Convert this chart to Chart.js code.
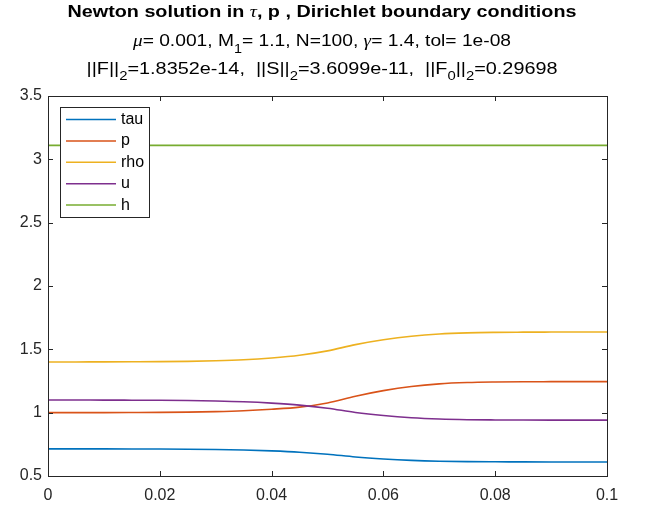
<!DOCTYPE html>
<html>
<head>
<meta charset="utf-8">
<script src="https://cdn.jsdelivr.net/npm/chart.js@4.4.1/dist/chart.umd.min.js"></script>
<style>
  html, body { margin: 0; padding: 0; background: #fff; }
</style>
</head>
<body>
<canvas id="myChart" width="649" height="508"></canvas>
<script>
// grid points and profiles of the shock solution
const xs = [0, 0.005, 0.01, 0.015, 0.02, 0.025, 0.03, 0.035, 0.04, 0.045, 0.05,
            0.055, 0.06, 0.065, 0.07, 0.075, 0.08, 0.085, 0.09, 0.095, 0.1];
const tau = [0.7143, 0.7140, 0.7138, 0.7134, 0.7129, 0.7116, 0.7093, 0.7053, 0.6983, 0.6881, 0.6722,
             0.6505, 0.6348, 0.6236, 0.6168, 0.6134, 0.6120, 0.6114, 0.6111, 0.6110, 0.6110];
const p = [1.0000, 1.0005, 1.0007, 1.0015, 1.0025, 1.0045, 1.0082, 1.0150, 1.0270, 1.0440, 1.0770,
           1.1300, 1.1740, 1.2070, 1.2275, 1.2376, 1.2420, 1.2441, 1.2448, 1.2453, 1.2453];
const rho = [1.4000, 1.4005, 1.4009, 1.4017, 1.4028, 1.4052, 1.4099, 1.4178, 1.4320, 1.4533, 1.4876,
             1.5373, 1.5752, 1.6036, 1.6214, 1.6302, 1.6340, 1.6356, 1.6363, 1.6368, 1.6368];
const u = [1.1000, 1.0996, 1.0993, 1.0986, 1.0979, 1.0959, 1.0923, 1.0862, 1.0754, 1.0597, 1.0352,
           1.0018, 0.9776, 0.9603, 0.9499, 0.9446, 0.9425, 0.9416, 0.9411, 0.9409, 0.9409];
const h = [3.11, 3.11, 3.11, 3.11, 3.11, 3.11, 3.11, 3.11, 3.11, 3.11, 3.11,
           3.11, 3.11, 3.11, 3.11, 3.11, 3.11, 3.11, 3.11, 3.11, 3.11];

const seriesNames = ['tau', 'p', 'rho', 'u', 'h'];
const seriesData = [tau, p, rho, u, h];
const seriesColors = ['#0072BD', '#D95319', '#EDB120', '#7E2F8E', '#77AC30'];

const xTicks = [0, 0.02, 0.04, 0.06, 0.08, 0.1];
const yTicks = [0.5, 1, 1.5, 2, 2.5, 3, 3.5];

const FONT = "'Liberation Sans', Arial, sans-serif";
const GREEK = "'Liberation Serif', 'DejaVu Serif', serif";
const AXIS = '#262626';

// title lines, split in runs so subscripts and greek letters can be drawn;
// the title font is a wide one, so each line is stretched to its width
const titleLines = [
  { y: 12.5, size: 17, width: 509, bold: true, runs: [
    { t: 'Newton solution in ' }, { t: 'τ', g: true }, { t: ', p , Dirichlet boundary conditions' }
  ]},
  { y: 42, size: 16, width: 378, runs: [
    { t: 'μ', g: true }, { t: '= 0.001, M' }, { t: '1', sub: true }, { t: '= 1.1, N=100, ' },
    { t: 'γ', g: true }, { t: '= 1.4, tol= 1e-08' }
  ]},
  { y: 69.5, size: 16, width: 471, runs: [
    { t: '||F||' }, { t: '2', sub: true }, { t: '=1.8352e-14,  ||S||' }, { t: '2', sub: true },
    { t: '=3.6099e-11,  ||F' }, { t: '0', sub: true }, { t: '||' }, { t: '2', sub: true }, { t: '=0.29698' }
  ]}
];

function runFont(line, r) {
  let size = r.sub ? Math.round(line.size * 0.72) : line.size;
  if (r.g) return 'italic ' + size + 'px ' + GREEK;
  return (line.bold ? 'bold ' : '') + size + 'px ' + FONT;
}

const titlePlugin = {
  id: 'titleRuns',
  afterDraw(chart) {
    const ctx = chart.ctx;
    ctx.fillStyle = '#000';
    ctx.textBaseline = 'middle';
    ctx.textAlign = 'left';
    titleLines.forEach(line => {
      let total = 0;
      line.runs.forEach(r => { ctx.font = runFont(line, r); total += ctx.measureText(r.t).width; });
      ctx.save();
      ctx.translate(322, 0);
      ctx.scale(line.width / total, 1);
      let x = -total / 2;
      line.runs.forEach(r => {
        ctx.font = runFont(line, r);
        ctx.fillText(r.t, x, r.sub ? line.y + line.size * 0.48 : line.y);
        x += ctx.measureText(r.t).width;
      });
      ctx.restore();
    });
  }
};

// box around the axes with inward ticks on all four sides
const boxPlugin = {
  id: 'axesBox',
  afterDatasetsDraw(chart) {
    const ctx = chart.ctx;
    const { left, right, top, bottom } = chart.chartArea;
    const xs_ = chart.scales.x, ys_ = chart.scales.y;
    ctx.save();
    ctx.strokeStyle = AXIS;
    ctx.lineWidth = 1;
    ctx.strokeRect(Math.round(left) + 0.5, Math.round(top) + 0.5,
                   Math.round(right - left), Math.round(bottom - top));
    ctx.beginPath();
    xs_.ticks.forEach(t => {
      const px = Math.round(xs_.getPixelForValue(t.value)) + 0.5;
      ctx.moveTo(px, bottom); ctx.lineTo(px, bottom - 5);
      ctx.moveTo(px, top); ctx.lineTo(px, top + 5);
    });
    ys_.ticks.forEach(t => {
      const py = Math.round(ys_.getPixelForValue(t.value)) + 0.5;
      ctx.moveTo(left, py); ctx.lineTo(left + 5, py);
      ctx.moveTo(right, py); ctx.lineTo(right - 5, py);
    });
    ctx.stroke();
    ctx.restore();
  }
};

// legend box in the upper left corner of the plot
const legendPlugin = {
  id: 'innerLegend',
  afterDraw(chart) {
    const ctx = chart.ctx;
    const bx = 60.5, by = 107.5, bw = 89, bh = 110;
    ctx.save();
    ctx.fillStyle = '#fff';
    ctx.fillRect(bx, by, bw, bh);
    ctx.strokeStyle = AXIS;
    ctx.lineWidth = 1;
    ctx.strokeRect(bx, by, bw, bh);
    ctx.font = '16px ' + FONT;
    ctx.textBaseline = 'middle';
    chart.data.datasets.forEach((ds, i) => {
      const yy = 119.5 + i * 21.4;
      ctx.strokeStyle = ds.borderColor;
      ctx.lineWidth = 1.5;
      ctx.beginPath();
      ctx.moveTo(66, yy); ctx.lineTo(116, yy);
      ctx.stroke();
      ctx.fillStyle = '#000';
      ctx.fillText(ds.label, 121, yy);
    });
    ctx.restore();
  }
};

const ctx = document.getElementById('myChart').getContext('2d');

const chart1 = new Chart(ctx, {
  type: 'line',
  data: {
    datasets: seriesNames.map((name, i) => ({
      label: name,
      data: xs.map((x, k) => ({ x: x, y: seriesData[i][k] })),
      borderColor: seriesColors[i],
      borderWidth: 1.6,
      pointRadius: 0,
      fill: false,
      cubicInterpolationMode: 'monotone',
      order: 5 - i
    }))
  },
  options: {
    responsive: false,
    animation: false,
    events: [],
    layout: { padding: { top: 96, right: 42, left: 0, bottom: 0 } },
    plugins: {
      legend: { display: false },
      title: { display: false },
      tooltip: { enabled: false }
    },
    scales: {
      x: {
        type: 'linear',
        min: 0, max: 0.1,
        grid: { display: false, drawTicks: false },
        border: { display: false },
        afterBuildTicks: s => { s.ticks = xTicks.map(v => ({ value: v })); },
        afterFit: s => { s.height = 32; },
        ticks: {
          padding: 10,
          color: AXIS,
          font: { family: FONT, size: 16 },
          callback: v => String(v)
        }
      },
      y: {
        min: 0.5, max: 3.5,
        grid: { display: false, drawTicks: false },
        border: { display: false },
        afterBuildTicks: s => { s.ticks = yTicks.map(v => ({ value: v })); },
        afterFit: s => { s.width = 48; },
        ticks: {
          padding: 6,
          color: AXIS,
          font: { family: FONT, size: 16 },
          callback: v => String(v)
        }
      }
    }
  },
  plugins: [boxPlugin, legendPlugin, titlePlugin]
});
</script>
</body>
</html>
